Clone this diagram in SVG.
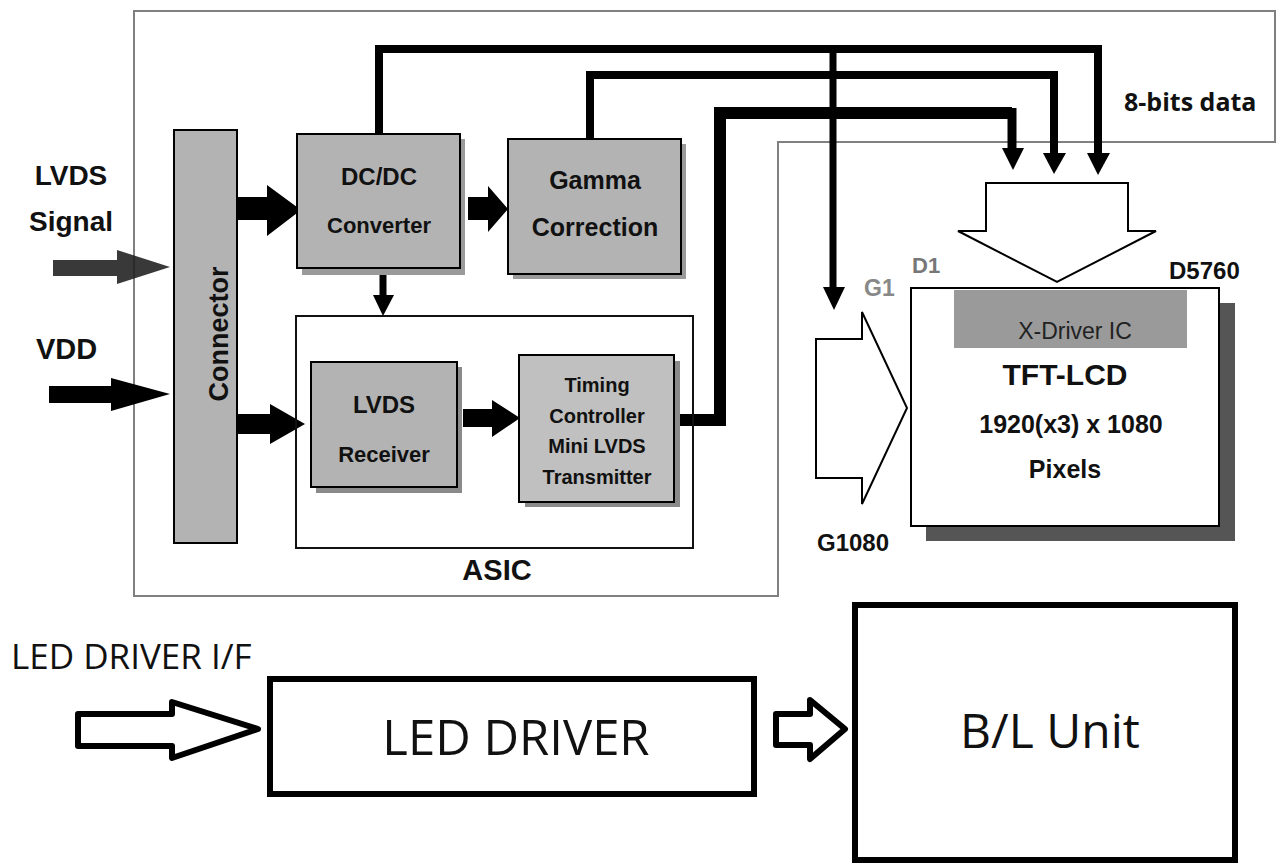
<svg xmlns="http://www.w3.org/2000/svg" width="1276" height="864" viewBox="0 0 1276 864">
<defs>
<style>
.b{font-family:"Liberation Sans",Arial,sans-serif;font-weight:bold;fill:#111}
.r{font-family:"Liberation Sans",Arial,sans-serif;fill:#222}
.o{font-family:"Open Sans","Noto Sans",sans-serif;fill:#111}
.box{fill:#b3b3b3;stroke:#000;stroke-width:2}
.sh{fill:#9a9a9a}
.bus{fill:none;stroke:#000;stroke-linejoin:miter}
.hol{fill:#fff;stroke:#000;stroke-width:2;stroke-linejoin:miter}
.thk{fill:#fff;stroke:#000;stroke-width:6;stroke-linejoin:round}
</style>
</defs>
<rect width="1276" height="864" fill="#fff"/>

<!-- outer gray frame -->
<path d="M134,11 H1275 V142 H778 V596 H134 Z" fill="none" stroke="#808080" stroke-width="2"/>

<g id="connectors">
  <!-- DC/DC bus to 8-bit right and gate -->
  <path class="bus" d="M379,134 V49 H1098 V156" stroke-width="8"/>
  <path class="bus" d="M833,49 V290" stroke-width="7"/>
  <polygon points="823,287 845,287 834,310"/>
  <polygon points="1087,153 1110,153 1098,175"/>
  <!-- Gamma bus -->
  <path class="bus" d="M590,139 V75 H1054 V156" stroke-width="8"/>
  <polygon points="1043,153 1066,153 1054,174"/>
  <!-- Timing bus -->
  <path class="bus" d="M674,420 H720 V113 H1012" stroke-width="12"/>
  <path class="bus" d="M1012,108 V152" stroke-width="9"/>
  <polygon points="1002,148 1024,148 1013,170"/>
  <!-- LVDS Signal input -->
  <polygon points="53,260 117,260 117,250 170,267 117,284 117,276 53,276" fill="#1e1e1e" opacity="0.88"/>
  <!-- VDD input -->
  <polygon points="49,386 111,386 111,378 170,394 111,411 111,403 49,403" fill="#000"/>
  <!-- Connector to DC/DC -->
  <polygon points="237,197 267,197 267,185 301,210 267,236 267,220 237,220" fill="#000"/>
  <!-- DC/DC to Gamma -->
  <polygon points="468,197 488,197 488,186 508,209 488,232 488,220 468,220" fill="#000"/>
  <!-- DC/DC down to ASIC -->
  <path class="bus" d="M383,268 V297" stroke-width="7"/>
  <polygon points="373,295 394,295 383,316"/>
  <!-- Connector to Receiver -->
  <polygon points="237,414 270,414 270,404 305,424 270,444 270,434 237,434" fill="#000"/>
  <!-- Receiver to Timing -->
  <polygon points="463,409 492,409 492,400 520,418 492,437 492,427 463,427" fill="#000"/>
  <!-- Source block arrow -->
  <polygon class="hol" points="986,183 1128,183 1128,231 1156,231 1057,282 958,231 986,231"/>
  <!-- Gate block arrow -->
  <polygon class="hol" points="816,339 862,339 862,312 907,408 862,504 862,478 816,478"/>
  <!-- LED driver input -->
  <polygon class="thk" points="78,714 172,714 172,702 258,729 172,758 172,746 78,746"/>
  <!-- LED driver to B/L -->
  <polygon class="thk" points="776,714 810,714 810,700 845,729 810,759 810,745 776,745"/>
</g>

<g id="lvds-signal-label">
  <text class="b" x="71" y="185" font-size="28" text-anchor="middle">LVDS</text>
  <text class="b" x="71" y="231" font-size="28" text-anchor="middle">Signal</text>
</g>
<g id="vdd-label">
  <text class="b" x="36" y="359" font-size="29">VDD</text>
</g>

<g id="connector">
  <rect class="box" x="174" y="130" width="63" height="413"/>
  <text class="b" font-size="27" text-anchor="middle" transform="translate(228,334) rotate(-90)">Connector</text>
</g>

<g id="dcdc">
  <rect class="sh" x="302" y="139" width="163" height="136"/>
  <rect class="box" x="297" y="134" width="163" height="134"/>
  <text class="b" x="379" y="185" font-size="24" text-anchor="middle">DC/DC</text>
  <text class="b" x="379" y="233" font-size="22" text-anchor="middle">Converter</text>
</g>

<g id="gamma">
  <rect class="sh" x="513" y="144" width="173" height="135"/>
  <rect class="box" x="508" y="139" width="173" height="135"/>
  <text class="b" x="595" y="189" font-size="25" text-anchor="middle">Gamma</text>
  <text class="b" x="595" y="236" font-size="25" text-anchor="middle">Correction</text>
</g>

<g id="asic">
  <rect x="296" y="316" width="397" height="232" fill="none" stroke="#111" stroke-width="2"/>
  <text class="b" x="497" y="580" font-size="29" text-anchor="middle">ASIC</text>
</g>

<g id="lvds-receiver">
  <rect x="316" y="367" width="146" height="126" fill="#8a8a8a"/>
  <rect class="box" x="311" y="362" width="146" height="125"/>
  <text class="b" x="384" y="413" font-size="24" text-anchor="middle">LVDS</text>
  <text class="b" x="384" y="462" font-size="22" text-anchor="middle">Receiver</text>
</g>

<g id="timing-controller">
  <rect x="525" y="361" width="155" height="146" fill="#8a8a8a"/>
  <rect class="box" x="519" y="355" width="155" height="147" style="fill:#c0c0c0"/>
  <text class="b" x="597" y="392" font-size="20" text-anchor="middle">Timing</text>
  <text class="b" x="597" y="423" font-size="20" text-anchor="middle">Controller</text>
  <text class="b" x="597" y="453" font-size="20" text-anchor="middle">Mini LVDS</text>
  <text class="b" x="597" y="484" font-size="20" text-anchor="middle">Transmitter</text>
</g>

<g id="data-label">
  <text class="o" x="1124" y="111" font-size="25" font-weight="bold">8-bits data</text>
</g>

<g id="tft-lcd">
  <rect x="926" y="303" width="309" height="238" fill="#555"/>
  <rect x="911" y="288" width="308" height="238" fill="#fff" stroke="#000" stroke-width="2"/>
  <rect x="954" y="290" width="233" height="58" fill="#9a9a9a"/>
  <text class="r" x="1075" y="339" font-size="23" text-anchor="middle">X-Driver IC</text>
  <text class="b" x="1065" y="385" font-size="30" text-anchor="middle">TFT-LCD</text>
  <text class="b" x="1071" y="433" font-size="25" text-anchor="middle">1920(x3) x 1080</text>
  <text class="b" x="1065" y="478" font-size="25" text-anchor="middle">Pixels</text>
</g>

<g id="edge-labels">
  <text class="b" x="912" y="273" font-size="22" style="fill:#777">D1</text>
  <text class="b" x="1169" y="279" font-size="24">D5760</text>
  <text class="b" x="864" y="296" font-size="23" style="fill:#888">G1</text>
  <text class="b" x="817" y="551" font-size="24">G1080</text>
</g>

<g id="led-driver-if">
  <text class="o" x="11" y="669" font-size="35">LED DRIVER I/F</text>
</g>

<g id="led-driver">
  <rect x="270" y="679" width="484" height="115" fill="#fff" stroke="#000" stroke-width="6"/>
  <text class="o" x="516" y="755" font-size="49" text-anchor="middle">LED DRIVER</text>
</g>

<g id="bl-unit">
  <rect x="855" y="605" width="380" height="255" fill="#fff" stroke="#000" stroke-width="6"/>
  <text class="o" x="1050" y="748" font-size="48" text-anchor="middle">B/L Unit</text>
</g>
</svg>
